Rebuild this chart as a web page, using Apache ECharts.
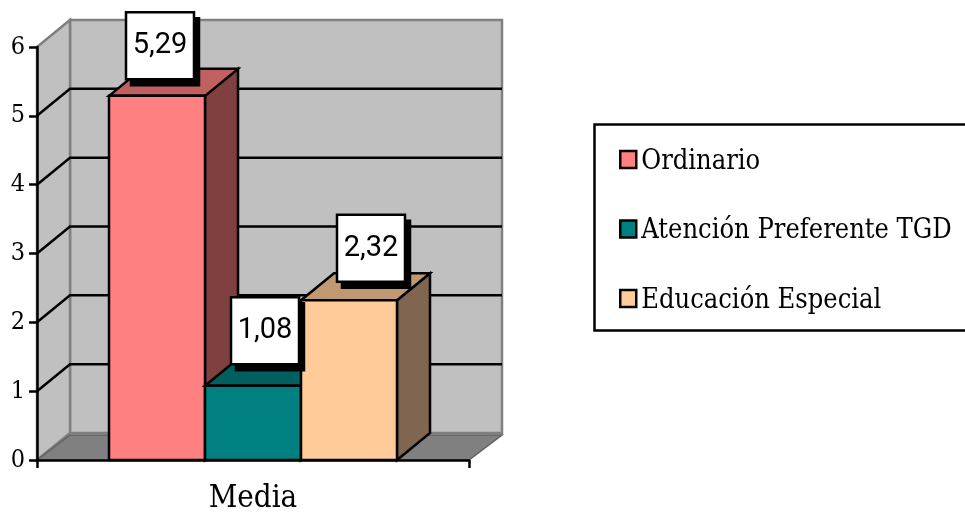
<!DOCTYPE html>
<html><head><meta charset="utf-8">
<style>html,body{margin:0;padding:0;background:#fff;overflow:hidden}#c{width:965px;height:512px}</style>
<script src="https://cdn.jsdelivr.net/npm/echarts@6/dist/echarts.min.js"></script>
</head><body><div id="c"></div>
<script>
const categories = ['Media'];
const seriesNames = ['Ordinario', 'Atención Preferente TGD', 'Educación Especial'];
const seriesValues = [5.29, 1.08, 2.32];
const valueLabels = ['5,29', '1,08', '2,32'];
const yTicks = [0, 1, 2, 3, 4, 5, 6];

const frontColors = ['#FF8080', '#008080', '#FFCC99'];
const topColors = ['#C06060', '#006060', '#C09973'];
const sideColors = ['#804040', '#004040', '#806650'];
const labelShift = [[3, -50], [12, -55], [22, -52]];

const DX = 33, DY = -27, BAR_SHARE = 96 / 432;
const SERIF = '"DejaVu Serif Condensed","DejaVu Serif"';
const line = { stroke: '#000', lineWidth: 2.5, lineJoin: 'miter' };

function renderWalls(params, api) {
  const p = api.coord([0, api.value(0)]);
  const band = api.size([1, 0])[0];
  const x0 = p[0] - band / 2, x1 = p[0] + band / 2, y = p[1];
  const kids = [];
  if (api.value(0) === 0) {
    const yTop = api.coord([0, yTicks[yTicks.length - 1]])[1];
    const grey = { fill: '#C0C0C0', stroke: '#808080', lineWidth: 2.5 };
    kids.push(
      { type: 'polygon', shape: { points: [[x0 + DX, yTop + DY], [x1 + DX, yTop + DY], [x1 + DX, y + DY], [x0 + DX, y + DY]] }, style: grey },
      { type: 'polygon', shape: { points: [[x0, yTop], [x0 + DX, yTop + DY], [x0 + DX, y + DY], [x0, y]] }, style: grey },
      { type: 'polygon', shape: { points: [[x0, y], [x0 + DX, y + DY + 2], [x1 + DX, y + DY + 2], [x1, y]] }, style: { fill: '#808080', stroke: '#606060', lineWidth: 1.5 } }
    );
  } else if (api.value(0) < yTicks[yTicks.length - 1]) {
    kids.push({ type: 'polyline', shape: { points: [[x0, y], [x0 + DX, y + DY], [x1 + DX, y + DY]] }, style: Object.assign({ fill: null }, line) });
  }
  return { type: 'group', children: kids };
}

function renderBar(index) {
  return function (params, api) {
    const top = api.coord([api.value(0), api.value(1)]);
    const base = api.coord([api.value(0), 0]);
    const w = api.size([1, 0])[0] * BAR_SHARE;
    const l = top[0] + (index - 1) * w - w / 2, r = l + w, t = top[1], b = base[1];
    return { type: 'group', children: [
      { type: 'polygon', shape: { points: [[r, t], [r + DX, t + DY], [r + DX, b + DY], [r, b]] }, style: Object.assign({ fill: sideColors[index] }, line) },
      { type: 'polygon', shape: { points: [[l, t], [l + DX, t + DY], [r + DX, t + DY], [r, t]] }, style: Object.assign({ fill: topColors[index] }, line) },
      { type: 'polygon', shape: { points: [[l, t], [r, t], [r, b], [l, b]] }, style: Object.assign({ fill: frontColors[index] }, line) }
    ] };
  };
}

function renderLabel(params, api) {
  const i = params.dataIndex;
  const p = api.coord([api.value(0), api.value(1)]);
  const w = api.size([1, 0])[0] * BAR_SHARE;
  const cx = p[0] + (i - 1) * w + labelShift[i][0], cy = p[1] + labelShift[i][1];
  const bw = 68, bh = 67;
  return { type: 'group', children: [
    { type: 'rect', shape: { x: cx - bw / 2 + 5, y: cy - bh / 2 + 6, width: bw, height: bh }, style: { fill: '#000', stroke: '#000', lineWidth: 2.5 } },
    { type: 'rect', shape: { x: cx - bw / 2, y: cy - bh / 2, width: bw, height: bh }, style: Object.assign({ fill: '#fff' }, line) },
    { type: 'text', style: { x: cx, y: cy, text: valueLabels[i], fill: '#000', font: '29px Roboto', textAlign: 'center', textVerticalAlign: 'middle' } }
  ] };
}

const chart = echarts.init(document.getElementById('c'), null, { renderer: 'canvas' });
chart.setOption({
  animation: false,
  backgroundColor: '#fff',
  grid: { left: 37, right: 496, top: 47, bottom: 52, outerBoundsMode: 'none' },
  xAxis: {
    type: 'category', data: categories, z: 20,
    axisLine: { lineStyle: { color: '#000', width: 2.5 } },
    axisTick: { show: true, length: 8, lineStyle: { color: '#000', width: 2.5 } },
    axisLabel: { color: '#000', fontFamily: SERIF, fontSize: 31, margin: 23 }
  },
  yAxis: {
    type: 'value', min: 0, max: 6, interval: 1, z: 20,
    splitLine: { show: false },
    axisLine: { show: true, lineStyle: { color: '#000', width: 2.5 } },
    axisTick: { show: true, length: 8, lineStyle: { color: '#000', width: 2.5 } },
    axisLabel: { color: '#000', fontFamily: SERIF, fontSize: 25, margin: 12, padding: [0, 0, 3, 0] }
  },
  legend: {
    orient: 'vertical', left: 619, top: 144, padding: 0,
    itemWidth: 16, itemHeight: 17, itemGap: 38.5,
    data: seriesNames.map(function (n) { return { name: n, icon: 'rect' }; }),
    formatter: function (n) { return '{t|' + n + '}'; },
    textStyle: { color: '#000', rich: { t: { color: '#000', fontFamily: SERIF, fontSize: 27, lineHeight: 30, padding: [4, 0, 0, 0] } } },
    itemStyle: { borderColor: '#000', borderWidth: 2.5 },
    selectedMode: false
  },
  graphic: [{ type: 'rect', z: -1, shape: { x: 594.5, y: 124.5, width: 380, height: 206 }, style: { fill: '#fff', stroke: '#000', lineWidth: 2.5 } }],
  series: [
    { type: 'custom', name: 'walls', silent: true, clip: false, z: 1, data: yTicks, encode: { y: 0 }, renderItem: renderWalls },
    { type: 'custom', name: seriesNames[0], clip: false, z: 2, itemStyle: { color: frontColors[0] }, data: [[0, seriesValues[0]]], renderItem: renderBar(0) },
    { type: 'custom', name: seriesNames[1], clip: false, z: 3, itemStyle: { color: frontColors[1] }, data: [[0, seriesValues[1]]], renderItem: renderBar(1) },
    { type: 'custom', name: seriesNames[2], clip: false, z: 4, itemStyle: { color: frontColors[2] }, data: [[0, seriesValues[2]]], renderItem: renderBar(2) },
    { type: 'custom', name: 'labels', silent: true, clip: false, z: 30, data: seriesValues.map(function (v) { return [0, v]; }), renderItem: renderLabel }
  ]
});
</script></body></html>
